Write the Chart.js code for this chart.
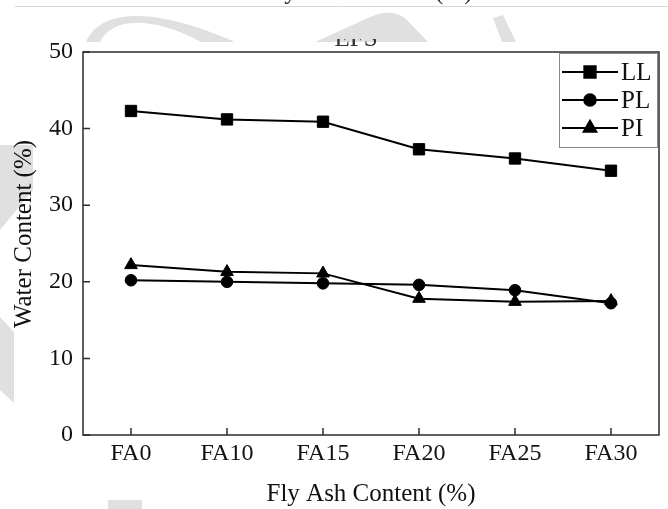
<!DOCTYPE html>
<html>
<head>
<meta charset="utf-8">
<script src="https://cdn.jsdelivr.net/npm/chart.js@4.4.1/dist/chart.umd.min.js"></script>
<style>
  body { margin: 0; background: #fff; }
  #wrap { width: 668px; height: 509px; }
</style>
</head>
<body>
<div id="wrap"><canvas id="limitsChart" width="668" height="509"></canvas></div>
<script>
const categories = ["FA0", "FA10", "FA15", "FA20", "FA25", "FA30"];
const liquidLimit = [42.3, 41.2, 40.9, 37.3, 36.1, 34.5];
const plasticLimit = [20.2, 20.0, 19.8, 19.6, 18.9, 17.2];
const plasticityIndex = [22.2, 21.3, 21.1, 17.8, 17.4, 17.5];
const yTicks = [0, 10, 20, 30, 40, 50];

const serif = "'Liberation Serif', 'Times New Roman', serif";
const wmGray = "#e0e0e0";

// faint watermark shapes + cropped caption of the figure above (scan leftovers)
const pageBackground = {
  id: "pageBackground",
  beforeDraw(chart) {
    const ctx = chart.ctx;
    ctx.save();
    ctx.fillStyle = "#fff";
    ctx.fillRect(0, 0, chart.width, chart.height);

    ctx.fillStyle = wmGray;
    ctx.save();
    ctx.beginPath();
    ctx.rect(0, 0, chart.width, 42);
    ctx.clip();
    ctx.beginPath();
    ctx.moveTo(86, 42);
    ctx.bezierCurveTo(100, 10, 150, 5, 235, 42);
    ctx.closePath();
    ctx.moveTo(100, 42);
    ctx.bezierCurveTo(112, 18, 150, 15, 201, 42);
    ctx.closePath();
    ctx.fill("evenodd");

    ctx.beginPath();
    ctx.moveTo(315, 42);
    ctx.lineTo(370, 17);
    ctx.quadraticCurveTo(390, 8, 405, 18);
    ctx.lineTo(428, 42);
    ctx.closePath();
    ctx.fill();

    ctx.beginPath();
    ctx.moveTo(493, 18);
    ctx.lineTo(503, 15);
    ctx.lineTo(516, 42);
    ctx.lineTo(502, 42);
    ctx.closePath();
    ctx.fill();
    ctx.restore();

    ctx.beginPath();
    ctx.moveTo(0, 145);
    ctx.lineTo(33, 145);
    ctx.lineTo(33, 190);
    ctx.lineTo(0, 230);
    ctx.closePath();
    ctx.fill();

    ctx.beginPath();
    ctx.moveTo(0, 317);
    ctx.lineTo(14, 332);
    ctx.lineTo(14, 403);
    ctx.lineTo(0, 390);
    ctx.closePath();
    ctx.fill();

    ctx.fillRect(108, 500, 34, 9);

    ctx.strokeStyle = "#d6d6d6";
    ctx.lineWidth = 1;
    ctx.beginPath();
    ctx.moveTo(15, 6.5);
    ctx.lineTo(chart.width, 6.5);
    ctx.stroke();

    ctx.fillStyle = "#222";
    ctx.font = "25px " + serif;
    ctx.textAlign = "center";
    ctx.textBaseline = "alphabetic";
    ctx.fillText("Fly Ash Content (%)", 368, -1);

    // bottom sliver of a label cut off by the crop
    ctx.save();
    ctx.beginPath();
    ctx.rect(320, 39, 70, 7);
    ctx.clip();
    ctx.fillStyle = "#333";
    ctx.fillText("EFS", 356, 46);
    ctx.restore();
    ctx.restore();
  }
};

// box frame, inward ticks, y title and the legend box
const frameAndLegend = {
  id: "frameAndLegend",
  afterDraw(chart) {
    const ctx = chart.ctx;
    const { left, right, top, bottom } = chart.chartArea;
    const xs = chart.scales.x;
    const ys = chart.scales.y;
    ctx.save();

    ctx.strokeStyle = "#2b2b2b";
    ctx.lineWidth = 1.5;
    ctx.strokeRect(left, top, right - left, bottom - top);

    ctx.beginPath();
    xs.ticks.forEach((t, i) => {
      const px = xs.getPixelForTick(i);
      ctx.moveTo(px, bottom);
      ctx.lineTo(px, bottom - 7);
    });
    ys.ticks.forEach((t, i) => {
      const py = ys.getPixelForTick(i);
      ctx.moveTo(left, py);
      ctx.lineTo(left + 7, py);
    });
    ctx.stroke();

    // y axis title
    ctx.save();
    ctx.translate(24, 234);
    ctx.rotate(-Math.PI / 2);
    ctx.fillStyle = "#111";
    ctx.font = "25px " + serif;
    ctx.textAlign = "center";
    ctx.textBaseline = "middle";
    ctx.fillText("Water Content (%)", 0, 0);
    ctx.restore();

    // legend
    ctx.strokeStyle = "#8a8a8a";
    ctx.lineWidth = 1;
    ctx.strokeRect(559.5, 53.5, 98, 94);

    const rows = [72, 100, 128];
    chart.data.datasets.forEach((ds, i) => {
      const y = rows[i];
      ctx.strokeStyle = "#000";
      ctx.lineWidth = 2;
      ctx.beginPath();
      ctx.moveTo(562, y);
      ctx.lineTo(618, y);
      ctx.stroke();
      ctx.fillStyle = "#000";
      Chart.helpers.drawPoint(ctx, {
        pointStyle: ds.pointStyle,
        radius: ds.pointRadius,
        rotation: 0,
        borderWidth: 1
      }, 590, y);
      ctx.fillStyle = "#111";
      ctx.font = "25px " + serif;
      ctx.textAlign = "left";
      ctx.textBaseline = "middle";
      ctx.fillText(ds.label, 621, y + 1);
    });
    ctx.restore();
  }
};

function series(label, data, style, radius) {
  return {
    label: label,
    data: data,
    borderColor: "#000",
    backgroundColor: "#000",
    borderWidth: 2,
    pointStyle: style,
    pointRadius: radius,
    pointHoverRadius: radius,
    pointBorderWidth: 1,
    pointBackgroundColor: "#000",
    pointBorderColor: "#000",
    tension: 0
  };
}

const ctx = document.getElementById("limitsChart").getContext("2d");
const limitsChart = new Chart(ctx, {
  type: "line",
  data: {
    labels: categories,
    datasets: [
      series("LL", liquidLimit, "rect", 8),
      series("PL", plasticLimit, "circle", 5.8),
      series("PI", plasticityIndex, "triangle", 7.3)
    ]
  },
  options: {
    responsive: false,
    animation: false,
    layout: { padding: { top: 52, right: 4, left: 0, bottom: 0 } },
    plugins: {
      legend: { display: false },
      tooltip: { enabled: false }
    },
    scales: {
      x: {
        type: "category",
        offset: true,
        grid: { display: false, drawTicks: false },
        border: { display: false },
        ticks: {
          color: "#111",
          font: { family: serif, size: 24 },
          padding: 4,
          maxRotation: 0
        },
        title: {
          display: true,
          text: "Fly Ash Content (%)",
          color: "#111",
          font: { family: serif, size: 25 },
          padding: { top: 0, bottom: 0 }
        },
        afterFit(scale) { scale.height = 74; }
      },
      y: {
        min: 0,
        max: 50,
        grid: { display: false, drawTicks: false },
        border: { display: false },
        ticks: {
          color: "#111",
          font: { family: serif, size: 24 },
          padding: 10
        },
        afterBuildTicks(scale) {
          scale.ticks = yTicks.map(v => ({ value: v }));
        },
        afterFit(scale) { scale.width = 83; }
      }
    }
  },
  plugins: [pageBackground, frameAndLegend]
});
</script>
</body>
</html>
